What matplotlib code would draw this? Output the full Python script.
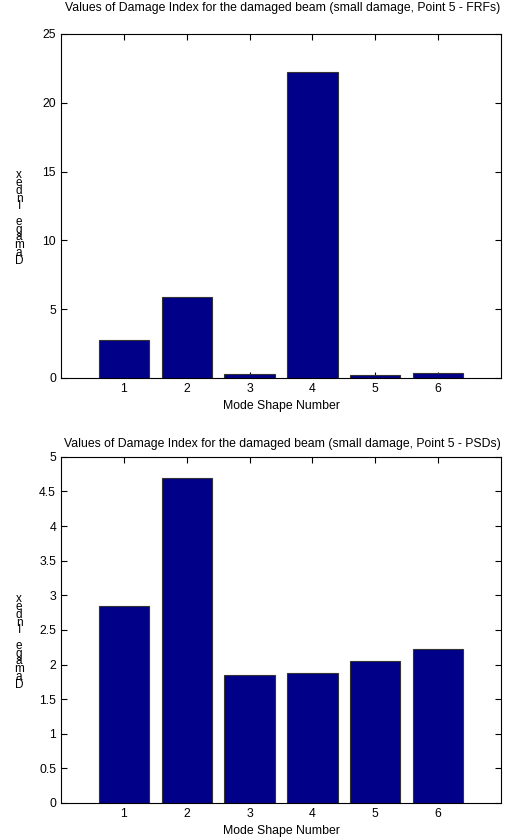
import matplotlib
matplotlib.use("Agg")
import matplotlib.pyplot as plt

plt.rcParams["font.family"] = ["Liberation Sans", "DejaVu Sans"]

modes = [1, 2, 3, 4, 5, 6]
di_frf = [2.75, 5.9, 0.25, 22.2, 0.2, 0.35]
di_psd = [2.85, 4.7, 1.85, 1.88, 2.05, 2.22]

frf_yticks = [0, 5, 10, 15, 20, 25]
psd_yticks = [0, 0.5, 1, 1.5, 2, 2.5, 3, 3.5, 4, 4.5, 5]

titles = [
    "Values of Damage Index for the damaged beam (small damage, Point 5 - FRFs)",
    "Values of Damage Index for the damaged beam (small damage, Point 5 - PSDs)",
]

BAR = "#000088"
FS = 8.8

fig = plt.figure(figsize=(5.19, 8.38), dpi=100)
ax1 = fig.add_axes([0.1175, 0.549, 0.848, 0.4105])
ax2 = fig.add_axes([0.1175, 0.0418, 0.848, 0.413])


def style(ax, vals, yticks, title, title_y):
    ax.bar(modes, vals, width=0.8, color=BAR, edgecolor="#333333", linewidth=0.8, zorder=2)
    ax.set_xlim(0, 7)
    ax.set_ylim(yticks[0], yticks[-1])
    ax.set_xticks(modes)
    ax.set_yticks(yticks)
    ax.set_yticklabels([f"{t:g}" for t in yticks])
    ax.tick_params(direction="in", top=True, right=True, labelsize=FS, length=4, width=0.8)
    for sp in ax.spines.values():
        sp.set_linewidth(0.8)
    ax.set_xlabel("Mode Shape Number", fontsize=FS, labelpad=4)
    fig.text(0.545, title_y, title, fontsize=FS, ha="center", va="center")
    # stacked y label, the way the original renders it
    label = "\n".join(reversed("Damage Index"))
    ax.text(-0.095, 0.465, label, transform=ax.transAxes, fontsize=8.5,
            ha="center", va="center", linespacing=0.53)


style(ax1, di_frf, frf_yticks, titles[0], 0.9905)
style(ax2, di_psd, psd_yticks, titles[1], 0.47)

fig.savefig("out.png", dpi=100)
